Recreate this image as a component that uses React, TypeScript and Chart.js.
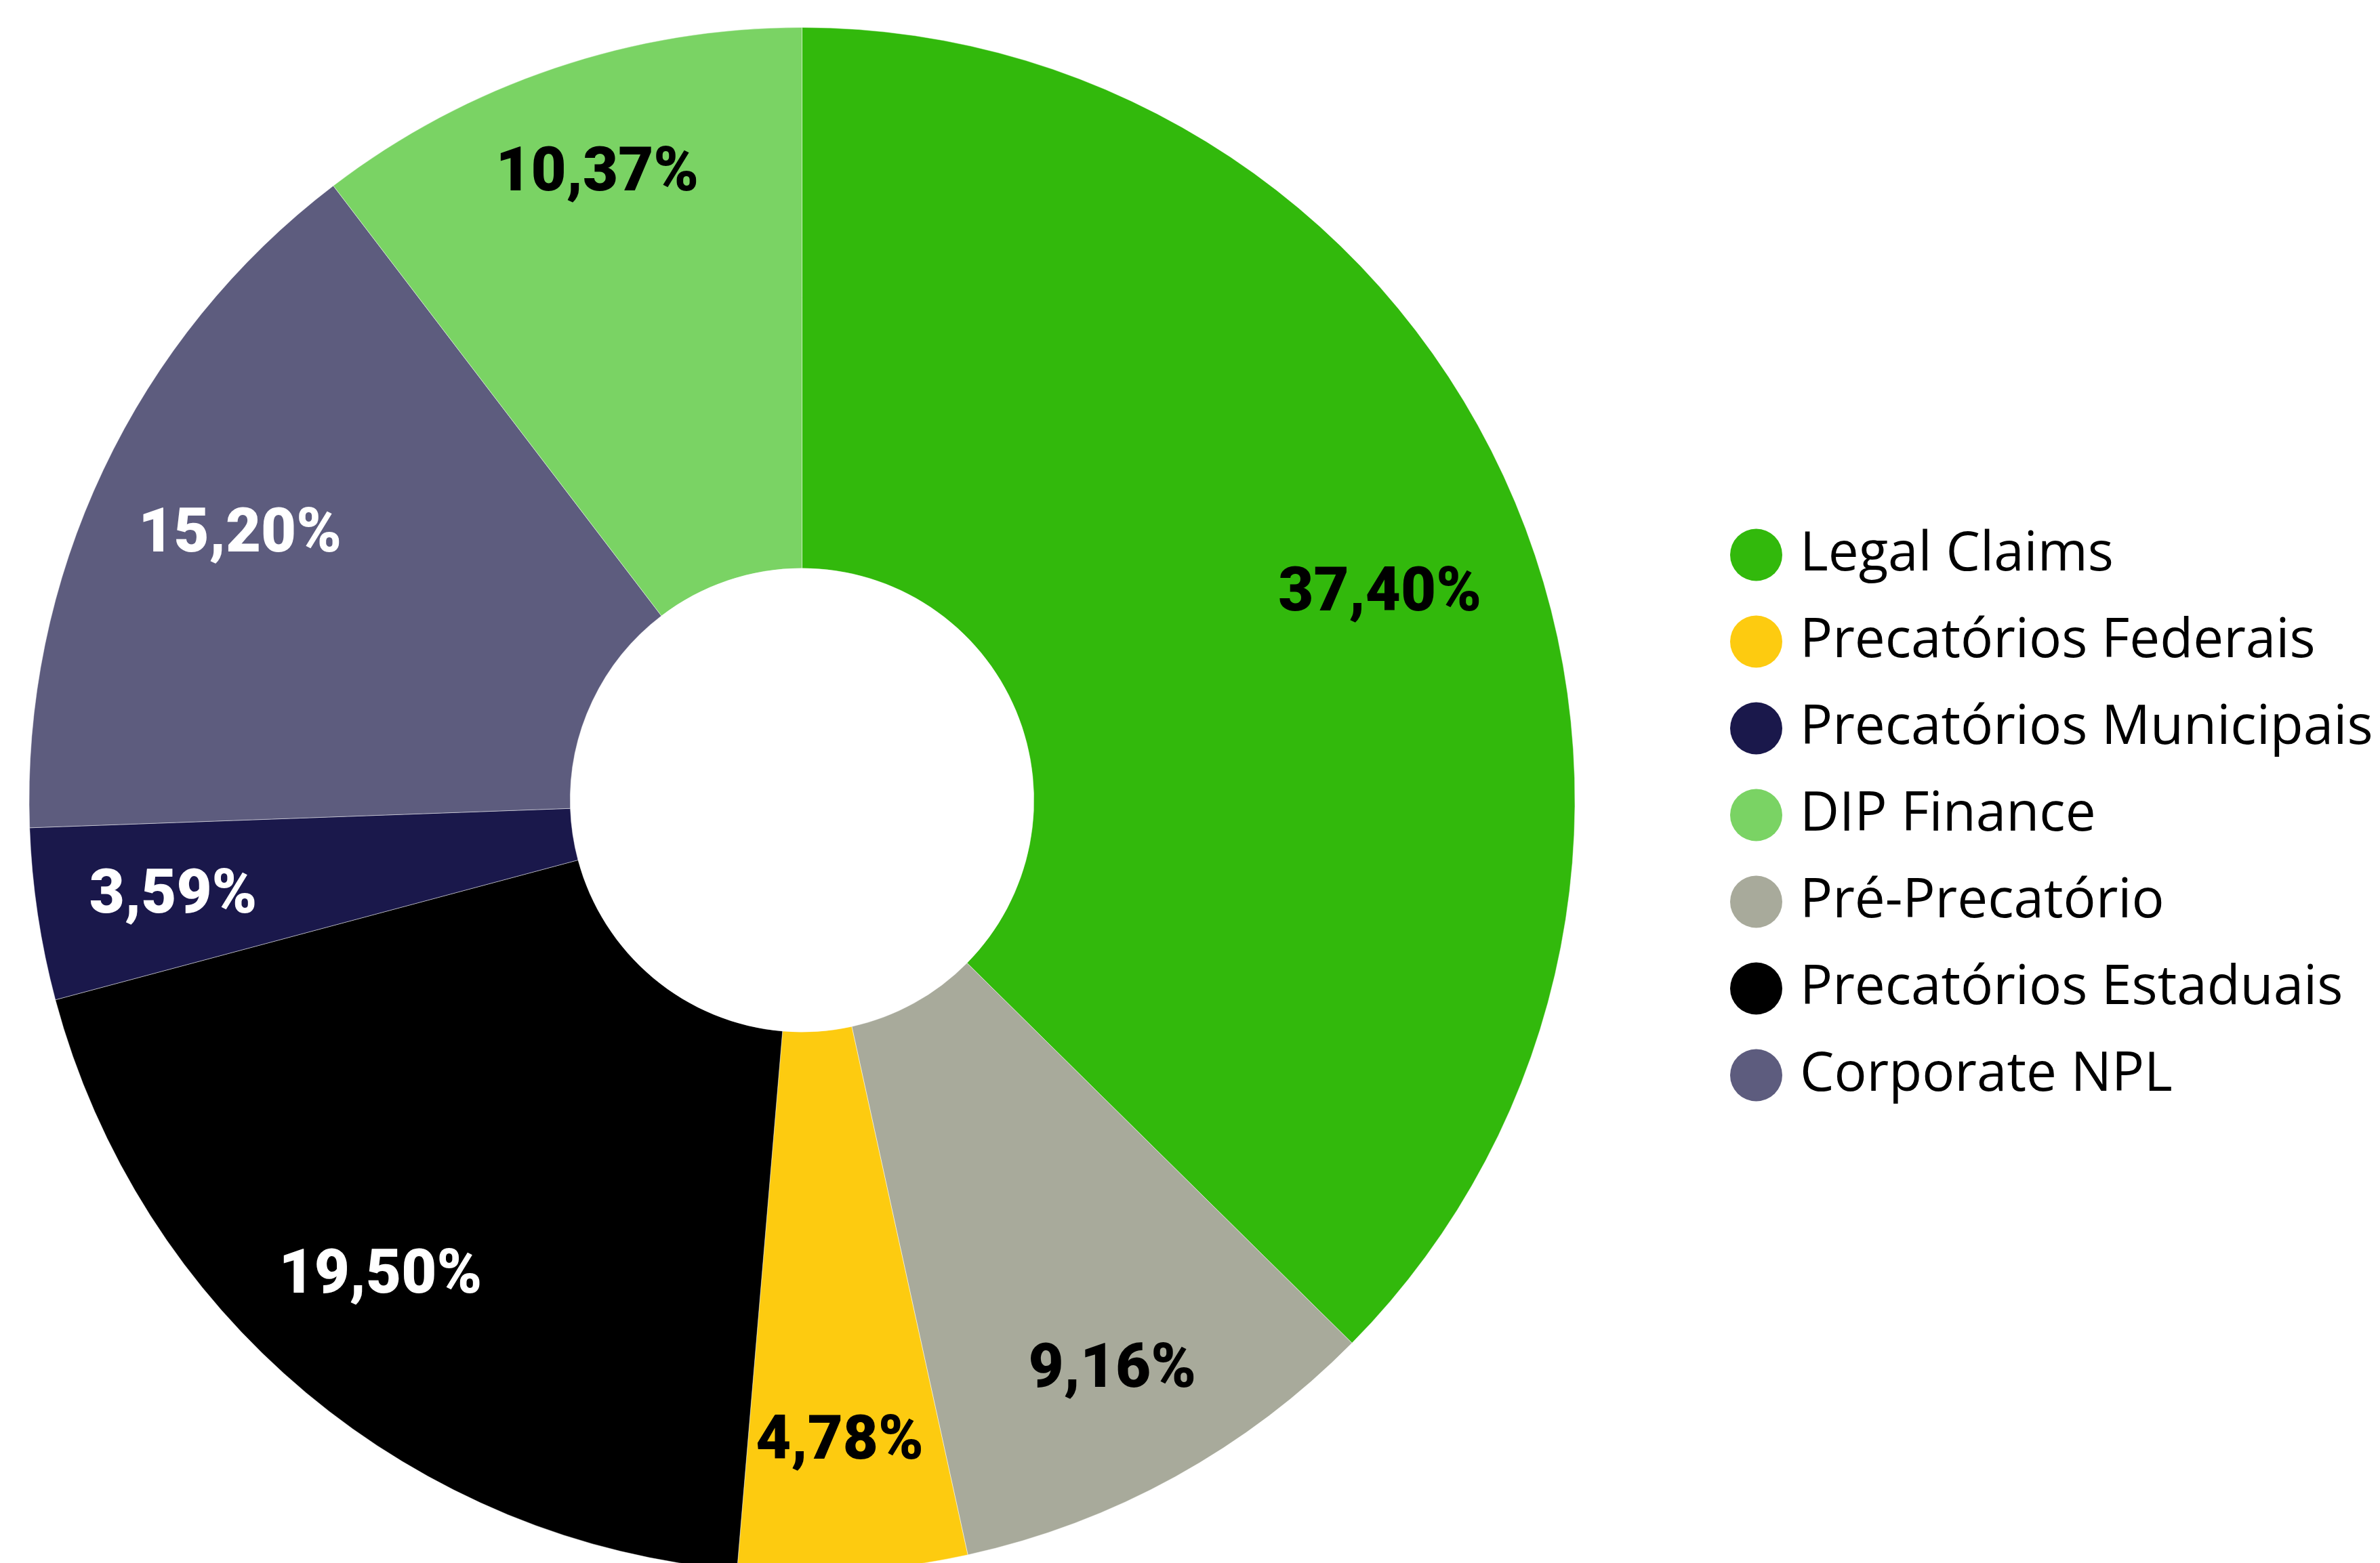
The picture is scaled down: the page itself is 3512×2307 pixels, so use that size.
import React, { useEffect, useRef } from 'react';
import { Chart, registerables, layouts } from 'chart.js';

Chart.register(...registerables);

// ---------- data ----------
const categories = [
  'Legal Claims',
  'Pré-Precatório',
  'Precatórios Federais',
  'Precatórios Estaduais',
  'Precatórios Municipais',
  'Corporate NPL',
  'DIP Finance',
];
const shares = [37.4, 9.16, 4.78, 19.5, 3.59, 15.2, 10.37];
const legendOrder = [
  'Legal Claims',
  'Precatórios Federais',
  'Precatórios Municipais',
  'DIP Finance',
  'Pré-Precatório',
  'Precatórios Estaduais',
  'Corporate NPL',
];
const sliceColors = ['#32B90C', '#A8AA9B', '#FDCB10', '#000000', '#1A184B', '#5D5C7E', '#7AD364'];

// ---------- layout / style ----------
const W = 3512;
const H = 2307;
const CENTER_X = 1183.5;
const CENTER_Y = 1181;
const OUTER_R = 1140.5;
const LEGEND_FONT = '"Open Sans", "Noto Sans", sans-serif';
const LEGEND_FONT_SIZE = 80;
const LEGEND_BOX_W = 49;
const LEGEND_BOX_H = 54.45;
const LEGEND_PAD = 48;
const LEGEND_GAP = 152;
const LEGEND_SHIFT = 44;
const LABEL_FONT = 'Roboto, "Liberation Sans", sans-serif';
const LABEL_FONT_SIZE = 90;
// label placement (fraction of outer radius, angular nudge in degrees) per slice
const labelRadius = [0.796, 0.834, 0.826, 0.818, 0.822, 0.807, 0.859];
const labelAngleNudge = [2.6, 0.1, 0.4, 1.9, 0.3, 0.4, 0.7];

const fmtPct = (v: number) => v.toFixed(2).replace('.', ',') + '%';

function luminance(hex: string) {
  const n = parseInt(hex.slice(1), 16);
  const c = [(n >> 16) & 255, (n >> 8) & 255, n & 255].map((v) => {
    const s = v / 255;
    return s <= 0.03928 ? s / 12.92 : Math.pow((s + 0.055) / 1.055, 2.4);
  });
  return 0.2126 * c[0] + 0.7152 * c[1] + 0.0722 * c[2];
}

// empty layout box that keeps a gap between the doughnut and the legend
const legendGapPlugin = {
  id: 'legendGap',
  beforeInit(chart: any) {
    const box: any = {
      position: 'right',
      weight: 900,
      fullSize: false,
      options: { display: false },
      left: 0,
      top: 0,
      right: 0,
      bottom: 0,
      width: 0,
      height: 0,
      isHorizontal: () => false,
      update(_mw: number, mh: number) {
        box.width = LEGEND_GAP;
        box.height = mh;
      },
      draw() {},
    };
    layouts.addBox(chart, box);
  },
};

const sliceLabelPlugin = {
  id: 'sliceLabels',
  afterDatasetsDraw(chart: any) {
    const meta = chart.getDatasetMeta(0);
    const values = chart.data.datasets[0].data as number[];
    const colors = chart.data.datasets[0].backgroundColor as string[];
    const ctx = chart.ctx as CanvasRenderingContext2D;
    ctx.save();
    ctx.font = `900 ${LABEL_FONT_SIZE}px ${LABEL_FONT}`;
    ctx.textAlign = 'center';
    ctx.textBaseline = 'alphabetic';
    meta.data.forEach((arc: any, i: number) => {
      const { x, y, startAngle, endAngle, outerRadius } = arc.getProps(
        ['x', 'y', 'startAngle', 'endAngle', 'outerRadius'],
        true
      );
      const mid = (startAngle + endAngle) / 2 + (labelAngleNudge[i] * Math.PI) / 180;
      const r = outerRadius * labelRadius[i];
      ctx.fillStyle = luminance(colors[i]) > 0.2 ? '#000000' : '#FFFFFF';
      ctx.fillText(
        fmtPct(values[i]),
        x + Math.cos(mid) * r,
        y + Math.sin(mid) * r + LABEL_FONT_SIZE * 0.355
      );
    });
    ctx.restore();
  },
};

export default function App() {
  const canvasRef = useRef<HTMLCanvasElement | null>(null);

  useEffect(() => {
    document.body.style.margin = '0';
    document.body.style.overflow = 'hidden';
    const canvas = canvasRef.current;
    if (!canvas) return;

    const m = document.createElement('canvas').getContext('2d') as CanvasRenderingContext2D;
    m.font = `normal ${LEGEND_FONT_SIZE}px ${LEGEND_FONT}`;
    const maxText = Math.max(...categories.map((c) => m.measureText(c).width));
    const legendWidth = LEGEND_PAD + LEGEND_BOX_W + LEGEND_FONT_SIZE / 2 + maxText + 10;
    const padRight = W - 2 * CENTER_X - LEGEND_GAP - legendWidth;
    const padTop = 2 * CENTER_Y - H;

    const baseGen = (Chart as any).overrides.doughnut.plugins.legend.labels.generateLabels;

    const chart = new Chart(canvas, {
      type: 'doughnut',
      data: {
        labels: categories,
        datasets: [
          {
            data: shares,
            backgroundColor: sliceColors,
            borderColor: 'rgba(255,255,255,0.45)',
            borderWidth: 1,
            radius: OUTER_R,
            cutout: '30%',
            clip: false,
          } as any,
        ],
      },
      options: {
        responsive: false,
        animation: false,
        devicePixelRatio: 1,
        events: [],
        layout: { padding: { top: padTop, bottom: 0, left: 0, right: padRight } },
        plugins: {
          tooltip: { enabled: false },
          legend: {
            position: 'right',
            align: 'center',
            title: {
              display: true,
              text: '',
              font: { size: 10, lineHeight: 1 },
              padding: { top: 0, bottom: LEGEND_SHIFT - 10 },
            },
            labels: {
              usePointStyle: true,
              pointStyle: 'circle',
              boxWidth: LEGEND_BOX_W,
              boxHeight: LEGEND_BOX_H,
              padding: LEGEND_PAD,
              color: '#000000',
              font: { family: LEGEND_FONT, size: LEGEND_FONT_SIZE, weight: 'normal' },
              generateLabels: (c: any) =>
                baseGen(c).map((l: any) => ({ ...l, lineWidth: 0 })),
              sort: (a: any, b: any) =>
                legendOrder.indexOf(a.text) - legendOrder.indexOf(b.text),
            },
          },
        },
      } as any,
      plugins: [legendGapPlugin as any, sliceLabelPlugin as any],
    });

    return () => chart.destroy();
  }, []);

  return (
    <div style={{ width: W, height: H, position: 'relative', background: '#ffffff' }}>
      <canvas ref={canvasRef} width={W} height={H} style={{ display: 'block', width: W, height: H }} />
    </div>
  );
}
